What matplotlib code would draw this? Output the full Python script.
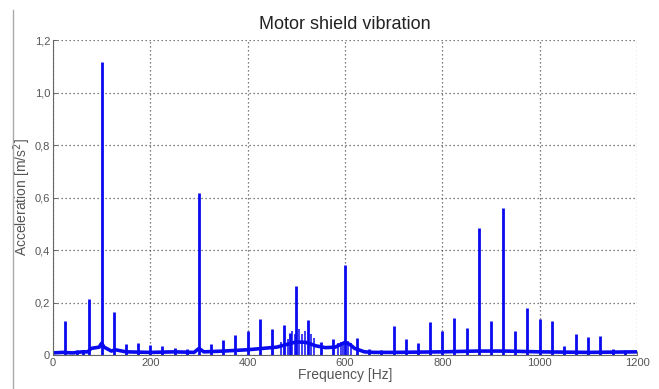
import matplotlib
matplotlib.use("Agg")
import matplotlib.pyplot as plt
from matplotlib.lines import Line2D
from matplotlib.ticker import FixedLocator

# Peak frequencies (Hz) and amplitudes (m/s^2)
peak_freqs = [25, 50, 62, 75, 100, 125, 150, 175, 200, 225, 250, 275, 300,
              325, 350, 375, 400, 425, 450, 475, 487, 500, 525, 550, 575, 600,
              625, 650, 675, 700, 725, 750, 775, 800, 825, 850, 875, 900, 925,
              950, 975, 1000, 1025, 1050, 1075, 1100, 1125, 1150, 1175]
peak_amps = [0.131, 0.019, 0.02, 0.212, 1.117, 0.162, 0.042, 0.045, 0.038,
             0.034, 0.026, 0.024, 0.618, 0.042, 0.057, 0.076, 0.093, 0.136,
             0.100, 0.114, 0.082, 0.263, 0.133, 0.050, 0.060, 0.343, 0.063,
             0.023, 0.020, 0.112, 0.061, 0.044, 0.124, 0.091, 0.142, 0.104,
             0.485, 0.130, 0.559, 0.091, 0.178, 0.136, 0.131, 0.034, 0.079,
             0.067, 0.072, 0.023, 0.020]

# Minor spikes in the broad hump regions
minor_freqs = [468, 482, 492, 497, 506, 512, 517, 530, 536, 586, 592, 596, 606, 612]
minor_amps = [0.05, 0.06, 0.09, 0.08, 0.10, 0.08, 0.09, 0.08, 0.065, 0.045, 0.05, 0.045, 0.055, 0.045]

# Noise floor / broad background
base_freqs = [0, 20, 40, 60, 72, 78, 95, 100, 105, 120, 128, 150, 200, 250,
              290, 300, 310, 350, 400, 430, 460, 480, 500, 520, 540, 560,
              580, 600, 610, 620, 640, 660, 700, 800, 870, 880, 920, 930,
              1000, 1100, 1200]
base_amps = [0.008, 0.010, 0.008, 0.012, 0.012, 0.025, 0.030, 0.045, 0.030,
             0.015, 0.020, 0.012, 0.010, 0.012, 0.010, 0.025, 0.012, 0.015,
             0.020, 0.025, 0.030, 0.040, 0.050, 0.048, 0.035, 0.028, 0.030,
             0.048, 0.040, 0.025, 0.012, 0.010, 0.010, 0.012, 0.015, 0.015,
             0.015, 0.015, 0.012, 0.010, 0.012]

x_ticks = [0, 200, 400, 600, 800, 1000, 1200]
x_tick_labels = ["0", "200", "400", "600", "800", "1000", "1200"]
y_ticks = [0, 0.2, 0.4, 0.6, 0.8, 1.0, 1.2]
y_tick_labels = ["0", "0,2", "0,4", "0,6", "0,8", "1,0", "1,2"]

plt.rcParams['font.family'] = ['Liberation Sans', 'DejaVu Sans']

fig = plt.figure(figsize=(6.59, 3.89), dpi=100)
ax = fig.add_axes([0.0804, 0.0874, 0.8862, 0.8096])

blue = '#0a0af0'
ax.plot(base_freqs, base_amps, color=blue, lw=2.6, solid_joinstyle='round')
ax.vlines(minor_freqs, 0.0, minor_amps, color=blue, lw=1.1)
ax.vlines(peak_freqs, 0.0, peak_amps, color=blue, lw=2.0)

ax.set_xlim(0, 1200)
ax.set_ylim(0, 1.2)
ax.xaxis.set_major_locator(FixedLocator(x_ticks))
ax.yaxis.set_major_locator(FixedLocator(y_ticks))
ax.set_xticklabels(x_tick_labels)
ax.set_yticklabels(y_tick_labels)

ax.grid(True, color='#555555', linestyle=(0, (1, 2.2)), linewidth=0.9)
ax.set_axisbelow(True)
for s in ['top', 'right']:
    ax.spines[s].set_visible(False)
for s in ['left', 'bottom']:
    ax.spines[s].set_color('#666666')
    ax.spines[s].set_linewidth(0.8)
ax.tick_params(direction='in', length=3, width=0.7, colors='#666666',
               labelsize=8, labelcolor='#555555', pad=2)

ax.set_title("Motor shield vibration", fontsize=13, color='#222222', pad=8)
ax.set_xlabel("Frequency [Hz]", fontsize=10, color='#555555', labelpad=0)
ax.set_ylabel("Acceleration [m/s$^2$]", fontsize=10, color='#555555', labelpad=1)

# thin grey border line at the left of the screenshot
fig.add_artist(Line2D([13 / 659, 13 / 659], [0, 1 - 10 / 389],
                      transform=fig.transFigure, color='#aaaaaa', lw=1.0))

fig.savefig("out.png", dpi=100)
